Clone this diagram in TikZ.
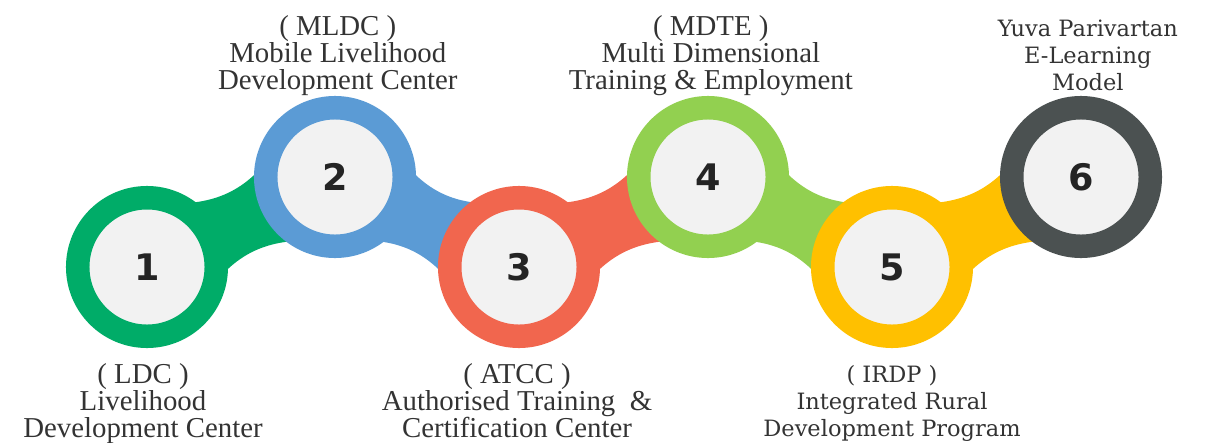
\documentclass[tikz,border=0pt]{standalone}
\usepackage{fontspec}
\setmainfont{Liberation Serif}
\newfontfamily\widefont{DejaVu Serif}
\newfontfamily\numfont{DejaVu Sans}
\usetikzlibrary{positioning, backgrounds}
\definecolor{StepGreen}{RGB}{0, 172, 104}
\definecolor{StepBlue}{RGB}{91, 155, 213}
\definecolor{StepRed}{RGB}{241, 102, 78}
\definecolor{StepLime}{RGB}{146, 208, 80}
\definecolor{StepGold}{RGB}{255, 192, 0}
\definecolor{StepSlate}{RGB}{75, 81, 81}
\definecolor{DiscGray}{RGB}{242, 242, 242}
\definecolor{TextGray}{RGB}{51, 51, 51}

\begin{document}
\begin{tikzpicture}[x=0.025cm, y=-0.025cm,
      ring/.style={circle, draw=#1, line width=0.5875cm, fill=DiscGray, minimum size=3.4625cm,
      inner sep=0pt, outer sep=0pt, text=TextGray!70!black, font=\numfont\bfseries\fontsize{26}{30}\selectfont},
      steptext/.style={align=center, inner sep=0pt, text=TextGray, font=\fontsize{20.5}{19.2}\selectfont},
      widetext/.style={align=center, inner sep=0pt, text=TextGray, font=\widefont\fontsize{16}{19.2}\selectfont}
    ]
      \useasboundingbox (0,0) rectangle (1211,442);

      \node[ring=StepGreen] (r1) at (147,267) {1};
      \node[ring=StepBlue] (r2) at (335,177) {2};
      \node[ring=StepRed] (r3) at (519,267) {3};
      \node[ring=StepLime] (r4) at (708,177) {4};
      \node[ring=StepGold] (r5) at (892,267) {5};
      \node[ring=StepSlate] (r6) at (1081,177) {6};

      % bands between the rings
      \begin{scope}[on background layer]
        \fill[StepGreen] (r1.66) to[out=1, in=231] (r2.166) -- (r2.246) to[out=181, in=51] (r1.-14) -- cycle;
        \fill[StepBlue] (r2.14) to[out=-51, in=179] (r3.114) -- (r3.194) to[out=129, in=-1] (r2.-66) -- cycle;
        \fill[StepRed] (r3.66) to[out=1, in=231] (r4.166) -- (r4.246) to[out=181, in=51] (r3.-14) -- cycle;
        \fill[StepLime] (r4.14) to[out=-51, in=179] (r5.114) -- (r5.194) to[out=129, in=-1] (r4.-66) -- cycle;
        \fill[StepGold] (r5.66) to[out=1, in=231] (r6.166) -- (r6.246) to[out=181, in=51] (r5.-14) -- cycle;
      \end{scope}

      \node[steptext, below=0.68cm of r1, xshift=-0.1cm] (t1) {( LDC )\\Livelihood\\Development Center};
      \node[steptext, above=0.29cm of r2, xshift=0.07cm] (t2) {( MLDC )\\Mobile Livelihood\\Development Center};
      \node[steptext, below=0.68cm of r3, xshift=-0.05cm] (t3) {( ATCC )\\Authorised Training\ \ \&\\Certification Center};
      \node[steptext, above=0.29cm of r4, xshift=0.07cm] (t4) {( MDTE )\\Multi Dimensional\\Training \& Employment};
      \node[widetext, below=0.73cm of r5] (t5) {( IRDP )\\Integrated Rural\\Development Program};
      \node[widetext, above=0.42cm of r6, xshift=0.17cm] (t6) {Yuva Parivartan\\E-Learning\\Model};
    \end{tikzpicture}
\end{document}
